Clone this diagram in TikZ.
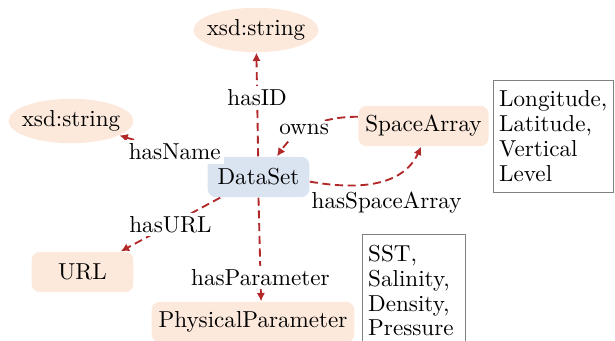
\documentclass[tikz,border=0pt]{standalone}
\usepackage{tikz}
\usetikzlibrary{arrows.meta,shapes.geometric}

\definecolor{conceptfill}{RGB}{252,233,219}
\definecolor{classfill}{RGB}{218,228,241}
\definecolor{relred}{RGB}{178,40,40}

\begin{document}
\begin{tikzpicture}[
    x=0.433pt, y=0.433pt,
    >={Latex[length=3.6pt,width=3.6pt]},
    concept/.style={
        rounded corners=3.5pt,
        fill=conceptfill,
        minimum width=44pt,
        minimum height=17.5pt,
        inner xsep=3pt
    },
    literal/.style={
        ellipse,
        fill=conceptfill,
        inner xsep=-2.2pt,
        inner ysep=2.3pt
    },
    note/.style={
        draw=gray,
        align=left,
        anchor=north west,
        font=\fontsize{10pt}{10.8pt}\selectfont,
        inner xsep=2.5pt,
        inner ysep=4.5pt
    },
    rel/.style={->, draw=relred, thick, dash pattern=on 3.5pt off 2pt},
    rellabel/.style={fill=white, inner sep=1.5pt}
]
\useasboundingbox (0,0) rectangle (615,340);

\node[literal] (idtype) at (256,310) {xsd:string};
\node[literal] (nametype) at (71,219) {xsd:string};

\node[concept, fill=classfill] (dataset) at (258.5,163) {DataSet};
\node[concept] (spacearray) at (423.5,214) {SpaceArray};
\node[concept] (url) at (82.5,68) {URL};
\node[concept] (physparam) at (253,18) {PhysicalParameter};

\node[note, text width=47pt] (spacenote) at (493,260)
  {Longitude, Latitude, Vertical Level};
\node[note, text width=39.5pt] (paramnote) at (362,106)
  {SST, Salinity, Density, Pressure};

\draw[rel] (dataset) -- node[rellabel, pos=0.57] {hasID} (idtype);
\draw[rel] (dataset) -- node[rellabel, pos=0.37] {hasName} (nametype);
\draw[rel] ([yshift=4pt]spacearray.west) to[out=180, in=55]
  node[rellabel, pos=0.6] {owns} ([xshift=8pt]dataset.north);
\draw[rel] ([yshift=-2pt]dataset.east) to[out=-10, in=-115]
  node[below=2pt, pos=0.6] {hasSpaceArray} ([xshift=-1pt]spacearray.south);
\draw[rel] (dataset) -- node[rellabel] {hasURL} (url);
\draw[rel] (dataset.south) -- node[rellabel, pos=0.77] {hasParameter}
  ([xshift=3.5pt]physparam.north);

\end{tikzpicture}
\end{document}
